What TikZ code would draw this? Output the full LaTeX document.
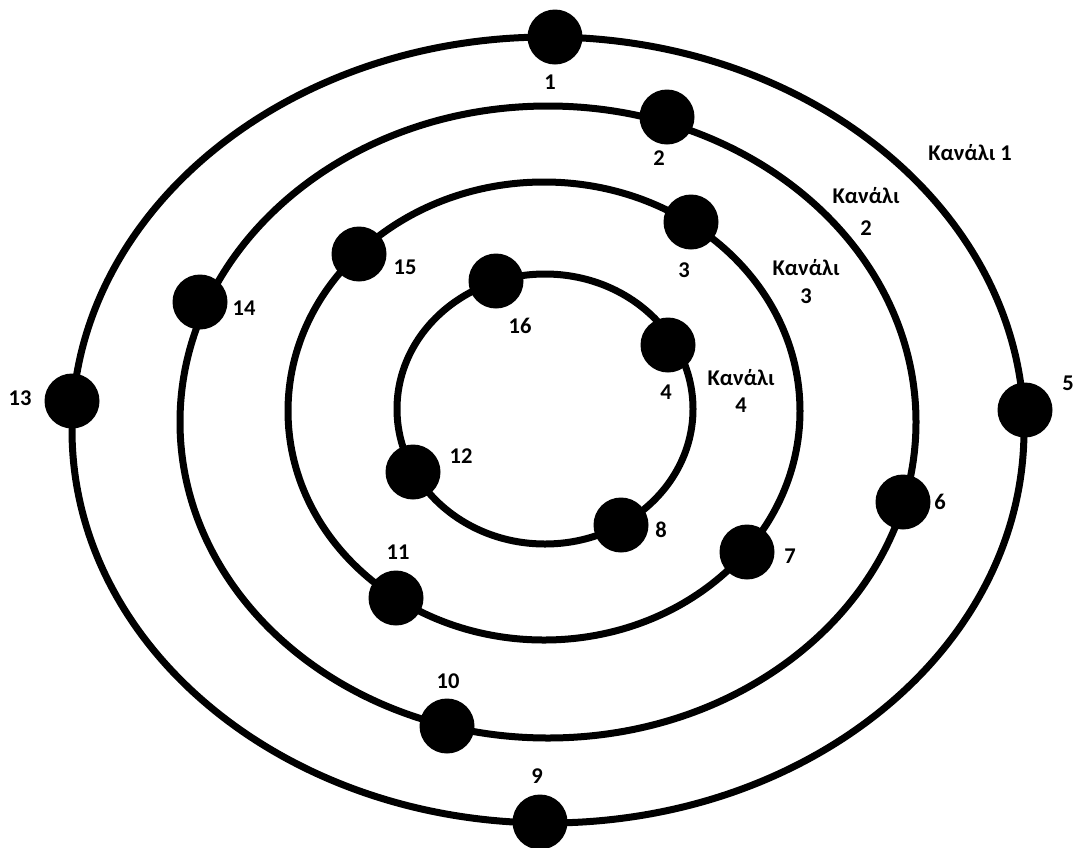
\documentclass[tikz,border=0pt]{standalone}
\usepackage{fontspec}
\setmainfont{Carlito}
\usepackage{xcolor}
\definecolor{ringblack}{RGB}{0, 0, 0}

\begin{document}
\begin{tikzpicture}[x=1pt, y=-1pt,
    ring/.style={line width=7pt, ringblack},
    dot/.style={circle, fill=ringblack, minimum size=55pt, inner sep=0pt},
    lbl/.style={font=\fontsize{22.5}{24}\selectfont\bfseries, inner sep=0pt}]

\useasboundingbox[fill=white] (0,0) rectangle (1076,847);

% === Kanali 1..4 (rings) ===
\draw[ring] (548,430) ellipse [x radius=476pt, y radius=393pt];
\draw[ring] (548,422) ellipse [x radius=368pt, y radius=316pt];
\draw[ring] (544,411) ellipse [x radius=256pt, y radius=229pt];
\draw[ring] (545,409) ellipse [x radius=148pt, y radius=135pt];

% === Stations ===
% ring 1
\node[dot] (n1)  at (555,37)  {};
\node[dot] (n5)  at (1025,410) {};
\node[dot] (n9)  at (540,822) {};
\node[dot] (n13) at (72,401)  {};
% ring 2
\node[dot] (n2)  at (667,117) {};
\node[dot] (n6)  at (903,502) {};
\node[dot] (n10) at (447,726) {};
\node[dot] (n14) at (200,302) {};
% ring 3
\node[dot] (n3)  at (691,222) {};
\node[dot] (n7)  at (747,552) {};
\node[dot] (n11) at (396,598) {};
\node[dot] (n15) at (359,254) {};
% ring 4
\node[dot] (n4)  at (668,345) {};
\node[dot] (n8)  at (621,525) {};
\node[dot] (n12) at (413,472) {};
\node[dot] (n16) at (496,281) {};

% === Numbers ===
\node[lbl] (t1)  at (550,82)  {1};
\node[lbl] (t2)  at (659,158) {2};
\node[lbl] (t3)  at (684,270) {3};
\node[lbl] (t4)  at (666,392) {4};
\node[lbl] (t5)  at (1068,383) {5};
\node[lbl] (t6)  at (940,502) {6};
\node[lbl] (t7)  at (790,556) {7};
\node[lbl] (t8)  at (661,530) {8};
\node[lbl] (t9)  at (537,776) {9};
\node[lbl] (t10) at (448,681) {10};
\node[lbl] (t11) at (398,552) {11};
\node[lbl] (t12) at (461,456) {12};
\node[lbl] (t13) at (20,398)  {13};
\node[lbl] (t14) at (244,308) {14};
\node[lbl] (t15) at (405,267) {15};
\node[lbl] (t16) at (520,326) {16};

% === Channel names ===
\node[lbl] (k1) at (970,153) {Κανάλι 1};
\node[lbl, align=center] (k2) at (866,211) {Κανάλι\\[8pt]2};
\node[lbl, align=center] (k3) at (806,282) {Κανάλι\\[4pt]3};
\node[lbl, align=center] (k4) at (741,391) {Κανάλι\\[3pt]4};

\end{tikzpicture}
\end{document}
